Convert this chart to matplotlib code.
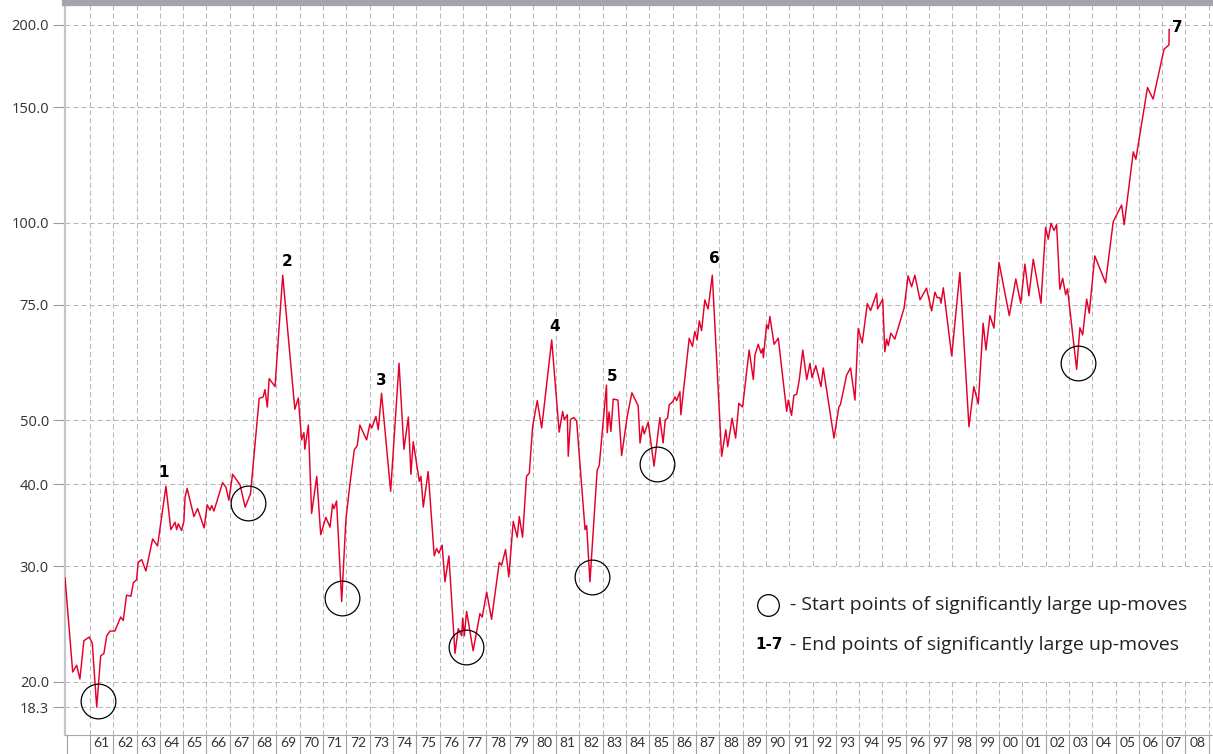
import matplotlib

matplotlib.use("Agg")
import matplotlib.pyplot as plt
from matplotlib.patches import Rectangle
from matplotlib.ticker import FixedFormatter, FixedLocator, NullLocator

plt.rcParams["lines.scale_dashes"] = False

# index level (decimal year, level on log scale)
dates = [
    1959.93, 1960.26, 1960.43, 1960.57, 1960.74, 1960.97, 1961.10, 1961.29, 1961.46, 1961.60,
    1961.72, 1961.86, 1962.07, 1962.32, 1962.43, 1962.57, 1962.76, 1962.86, 1963.00, 1963.07,
    1963.22, 1963.40, 1963.69, 1963.90, 1964.26, 1964.47, 1964.65, 1964.72, 1964.79, 1964.93,
    1965.03, 1965.08, 1965.17, 1965.46, 1965.62, 1965.90, 1966.03, 1966.15, 1966.22, 1966.32,
    1966.69, 1966.83, 1966.96, 1967.12, 1967.44, 1967.66, 1967.89, 1968.26, 1968.43, 1968.51,
    1968.61, 1968.69, 1968.94, 1969.27, 1969.79, 1969.94, 1970.08, 1970.18, 1970.22, 1970.37,
    1970.51, 1970.73, 1970.90, 1971.12, 1971.30, 1971.41, 1971.47, 1971.58, 1971.80, 1971.98,
    1972.15, 1972.34, 1972.47, 1972.58, 1972.87, 1973.01, 1973.09, 1973.27, 1973.37, 1973.51,
    1973.90, 1974.26, 1974.47, 1974.66, 1974.77, 1974.87, 1975.13, 1975.20, 1975.30, 1975.51,
    1975.77, 1975.87, 1975.97, 1976.11, 1976.23, 1976.40, 1976.66, 1976.80, 1976.95, 1976.99,
    1977.06, 1977.16, 1977.44, 1977.73, 1977.83, 1978.02, 1978.23, 1978.56, 1978.66, 1978.83,
    1978.97, 1979.16, 1979.33, 1979.42, 1979.56, 1979.73, 1979.85, 1979.99, 1980.19, 1980.38,
    1980.81, 1981.13, 1981.28, 1981.35, 1981.48, 1981.52, 1981.62, 1981.76, 1981.88, 1982.24,
    1982.31, 1982.45, 1982.76, 1982.85, 1983.16, 1983.19, 1983.27, 1983.35, 1983.45, 1983.65,
    1983.81, 1984.05, 1984.25, 1984.52, 1984.60, 1984.71, 1984.78, 1984.95, 1985.20, 1985.45,
    1985.59, 1985.68, 1985.78, 1985.85, 1986.00, 1986.10, 1986.17, 1986.31, 1986.35, 1986.71,
    1986.85, 1986.95, 1987.05, 1987.14, 1987.24, 1987.38, 1987.52, 1987.70, 1988.10, 1988.28,
    1988.36, 1988.55, 1988.70, 1988.84, 1989.00, 1989.28, 1989.46, 1989.53, 1989.67, 1989.79,
    1989.86, 1989.89, 1990.03, 1990.10, 1990.17, 1990.35, 1990.53, 1990.89, 1990.96, 1991.10,
    1991.20, 1991.32, 1991.43, 1991.58, 1991.75, 1991.89, 1991.98, 1992.14, 1992.36, 1992.46,
    1992.92, 1993.13, 1993.20, 1993.46, 1993.63, 1993.82, 1993.96, 1994.13, 1994.35, 1994.49,
    1994.75, 1994.79, 1995.01, 1995.10, 1995.18, 1995.25, 1995.36, 1995.53, 1995.93, 1996.10,
    1996.25, 1996.39, 1996.61, 1996.89, 1997.11, 1997.25, 1997.35, 1997.46, 1997.51, 1997.61,
    1997.97, 1998.32, 1998.71, 1998.92, 1999.11, 1999.32, 1999.44, 1999.61, 1999.78, 2000.00,
    2000.44, 2000.72, 2000.93, 2001.11, 2001.28, 2001.47, 2001.80, 2002.00, 2002.11, 2002.23,
    2002.36, 2002.47, 2002.61, 2002.73, 2002.86, 2002.94, 2003.33, 2003.47, 2003.59, 2003.76,
    2003.87, 2004.11, 2004.57, 2004.90, 2005.26, 2005.37, 2005.76, 2005.87, 2006.37, 2006.61,
    2007.08, 2007.29, 2007.30,
]
index_level = [
    28.8, 20.7, 21.2, 20.2, 23.1, 23.4, 22.9, 18.3, 21.9, 22.1,
    23.5, 23.9, 23.9, 25.1, 24.8, 27.1, 27.0, 28.3, 28.6, 30.4,
    30.7, 29.5, 33.0, 32.2, 39.7, 34.1, 35.0, 34.1, 34.8, 34.0,
    35.1, 38.2, 39.4, 35.7, 36.7, 34.3, 37.2, 36.5, 37.1, 36.4,
    40.2, 39.6, 37.8, 41.4, 39.9, 36.9, 38.7, 54.0, 54.3, 55.7,
    52.4, 57.9, 56.3, 83.2, 52.0, 54.1, 46.7, 47.9, 45.2, 49.2,
    36.1, 41.1, 33.5, 35.6, 34.4, 37.3, 36.7, 37.7, 26.5, 35.3,
    39.9, 45.1, 45.8, 49.2, 46.7, 49.4, 48.7, 50.7, 48.4, 55.0,
    39.0, 61.1, 45.2, 50.6, 41.4, 46.4, 40.4, 41.1, 36.9, 41.8,
    31.1, 31.9, 31.4, 32.3, 28.4, 31.1, 22.1, 24.1, 23.5, 25.0,
    23.5, 25.6, 22.3, 25.4, 25.1, 27.4, 24.9, 30.4, 30.1, 31.8,
    28.9, 35.1, 33.2, 35.7, 33.2, 41.1, 41.6, 48.9, 53.6, 48.7,
    66.3, 48.0, 51.6, 50.1, 51.0, 44.1, 50.2, 50.5, 49.9, 34.1,
    34.6, 28.4, 42.0, 42.7, 56.6, 47.9, 51.5, 48.1, 53.9, 53.7,
    44.2, 50.7, 55.1, 52.6, 46.2, 49.0, 47.7, 49.7, 42.6, 50.5,
    46.2, 50.1, 50.4, 52.8, 53.4, 54.3, 53.6, 55.3, 51.0, 66.7,
    64.8, 68.3, 66.3, 70.9, 68.5, 76.3, 73.9, 83.2, 44.1, 48.4,
    45.6, 50.4, 47.0, 53.1, 52.4, 64.0, 57.7, 62.9, 65.3, 63.3,
    64.3, 62.3, 70.0, 68.9, 72.0, 65.3, 66.7, 51.6, 53.7, 50.9,
    54.6, 54.8, 57.6, 64.0, 57.7, 61.1, 58.1, 60.6, 56.3, 60.1,
    47.0, 52.4, 52.9, 58.6, 60.1, 53.7, 69.0, 65.6, 75.3, 73.5,
    78.1, 73.9, 76.5, 63.6, 66.5, 65.0, 67.9, 66.5, 74.2, 83.0,
    79.9, 83.2, 76.3, 79.5, 73.4, 78.4, 76.9, 76.9, 75.4, 79.6,
    62.7, 84.0, 48.9, 56.3, 53.0, 70.3, 64.0, 72.2, 69.1, 87.0,
    72.2, 82.1, 75.4, 86.5, 77.4, 88.0, 75.4, 98.4, 94.4, 99.8,
    97.3, 99.3, 79.2, 82.3, 77.7, 79.3, 59.8, 69.2, 67.5, 76.5,
    72.8, 89.0, 81.0, 100.4, 106.4, 99.3, 128.2, 124.9, 160.6, 154.2,
    183.7, 186.5, 196.9,
]

# start points (circled lows) and end points (numbered highs)
start_dates = [1961.36, 1967.79, 1971.80, 1977.13, 1982.55, 1985.31, 2003.40]
start_levels = [18.7, 37.5, 26.8, 22.6, 28.9, 42.9, 61.1]
end_labels = ["1", "2", "3", "4", "5", "6", "7"]
end_dates = [1964.14, 1969.46, 1973.51, 1980.92, 1983.42, 1987.77, 2007.66]
end_levels = [41.6, 87.3, 57.5, 69.5, 58.3, 88.1, 198.3]

y_ticks = [18.3, 20.0, 30.0, 40.0, 50.0, 75.0, 100.0, 150.0, 200.0]
year_bounds = list(range(1960, 2010))
year_labels = ["%02d" % (y % 100) for y in range(1961, 2009)]

legend_start = "- Start points of significantly large up-moves"
legend_end = "- End points of significantly large up-moves"

RED = "#e4002b"
GRID = "#b9b9b9"
TEXT = "#222222"

fig = plt.figure(figsize=(12.13, 7.54), dpi=100)
ax = fig.add_axes([65 / 1213, 19 / 754, 1148 / 1213, 732 / 754])

ax.plot(dates, index_level, color=RED, lw=1.05, zorder=3)

ax.set_yscale("log")
ax.set_ylim(16.6, 216.0)
ax.set_xlim(1959.93, 2009.18)

# y axis
ax.yaxis.set_major_locator(FixedLocator(y_ticks))
ax.yaxis.set_minor_locator(NullLocator())
ax.yaxis.set_major_formatter(FixedFormatter(["%.1f" % v for v in y_ticks]))
ax.tick_params(axis="y", which="major", length=8.6, width=0.8, color="#9a9a9a",
               pad=3, labelsize=10.5, labelcolor="#333333")

# x axis: separators at year boundaries, labels centred in each year
ax.xaxis.set_major_locator(FixedLocator(year_bounds))
ax.xaxis.set_major_formatter(FixedFormatter([""] * len(year_bounds)))
ax.xaxis.set_minor_locator(FixedLocator([y + 0.5 for y in range(1961, 2009)]))
ax.xaxis.set_minor_formatter(FixedFormatter(year_labels))
ax.tick_params(axis="x", which="major", length=14, width=0.8, color="#a0a0a0")
ax.tick_params(axis="x", which="minor", length=0, pad=1.5, labelsize=10,
               labelcolor="#333333")

for lab in ax.get_yticklabels():
    lab.set_family("Open Sans")
for lab in ax.get_xticklabels(minor=True):
    lab.set_family("Lato")

ax.grid(True, which="major", axis="both", color=GRID, lw=0.75, ls=(0, (3.6, 2.2)))
# no dashed line right on top of the left spine
ax.get_xgridlines()[0].set_visible(False)

ax.spines["right"].set_visible(False)
ax.spines["left"].set_color("#c4c7ca")
ax.spines["left"].set_linewidth(1.6)
ax.spines["bottom"].set_color("#a9a9a9")
ax.spines["bottom"].set_linewidth(0.8)
ax.spines["top"].set_color("#a2a6aa")
ax.spines["top"].set_linewidth(4.5)

# circled start points
ax.plot(start_dates, start_levels, ls="none", marker="o", ms=25, mfc="none",
        mec="black", mew=0.9, zorder=4)

# numbered end points
for lab, d, v in zip(end_labels, end_dates, end_levels):
    ax.text(d, v, lab, fontsize=11, fontweight="bold", ha="center", va="center",
            family="DejaVu Sans", color="black", zorder=5)

# legend box
ax.add_patch(Rectangle((0.5967, 0.0751), 0.398, 0.1517, transform=ax.transAxes,
                       facecolor="white", edgecolor="none", zorder=2))
ax.plot([0.6126], [0.1776], transform=ax.transAxes, marker="o", ms=15.6,
        mfc="none", mec="black", mew=0.9, zorder=4)
ax.text(0.6315, 0.1776, legend_start, transform=ax.transAxes, ha="left", va="center",
        fontsize=14, family="Open Sans", color=TEXT, zorder=5)
ax.text(0.601, 0.123, "1-7", transform=ax.transAxes, ha="left", va="center",
        fontsize=11, fontweight="bold", family="DejaVu Sans", color="black", zorder=5)
ax.text(0.6315, 0.123, legend_end, transform=ax.transAxes, ha="left", va="center",
        fontsize=14, family="Open Sans", color=TEXT, zorder=5)

fig.savefig("out.png", dpi=100)
